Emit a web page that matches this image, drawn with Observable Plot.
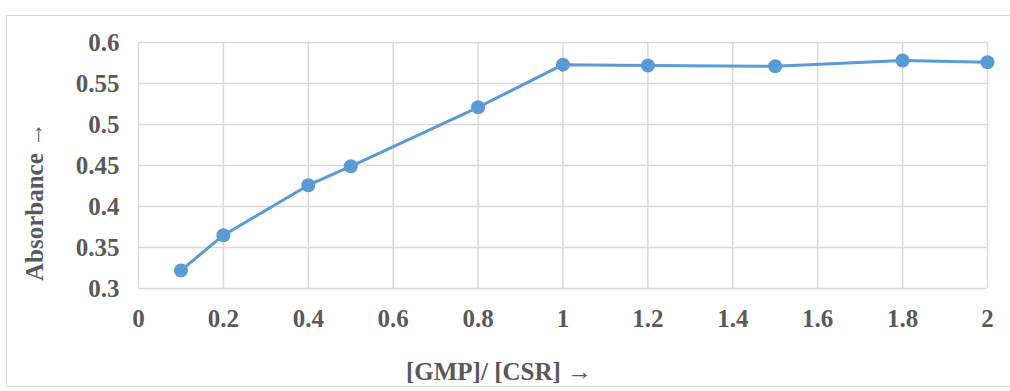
<!DOCTYPE html>
<html>
<head>
<meta charset="utf-8">
<script src="https://cdn.jsdelivr.net/npm/d3@7"></script>
<script src="https://cdn.jsdelivr.net/npm/@observablehq/plot@0.6"></script>
<style>
  html, body { margin: 0; padding: 0; background: #fff; }
  #wrap { position: relative; width: 1010px; height: 391px; overflow: hidden; }
  #border { position: absolute; left: 6px; top: 15px; width: 1020px; height: 372px; border: 1.5px solid #d9d9d9; box-sizing: border-box; pointer-events: none; }
</style>
</head>
<body>
<div id="wrap"><div id="border"></div></div>
<script>
const ratio = [0.1, 0.2, 0.4, 0.5, 0.8, 1, 1.2, 1.5, 1.8, 2];
const absorbance = [0.322, 0.365, 0.426, 0.449, 0.521, 0.573, 0.572, 0.571, 0.578, 0.576];
const xTicks = [0, 0.2, 0.4, 0.6, 0.8, 1, 1.2, 1.4, 1.6, 1.8, 2];
const yTicks = [0.3, 0.35, 0.4, 0.45, 0.5, 0.55, 0.6];
const xTitle = "[GMP]/ [CSR] →";
const yTitle = "Absorbance →";

const data = ratio.map((x, i) => ({x, y: absorbance[i]}));
const blue = "#5B9BD5";
const grid = "#d9d9d9";

const chart = Plot.plot({
  width: 1010,
  height: 391,
  marginLeft: 138,
  marginRight: 23,
  marginTop: 42,
  marginBottom: 103,
  x: {domain: [0, 2]},
  y: {domain: [0.3, 0.6]},
  style: {fontFamily: "'Liberation Serif', 'Times New Roman', serif", fontWeight: "bold", color: "#595959", background: "transparent"},
  marks: [
    Plot.ruleX(xTicks, {stroke: grid, strokeWidth: 1.5}),
    Plot.ruleY(yTicks, {stroke: grid, strokeWidth: 1.5}),
    Plot.axisX(xTicks, {tickSize: 0, tickPadding: 21, fontSize: 25, label: null, tickFormat: d => String(d)}),
    Plot.axisY(yTicks, {tickSize: 0, tickPadding: 19, fontSize: 25, label: null, tickFormat: d => String(d)}),
    Plot.line(data, {x: "x", y: "y", stroke: blue, strokeWidth: 3}),
    Plot.dot(data, {x: "x", y: "y", r: 7, fill: blue, stroke: "none"}),
    Plot.text([xTitle], {frameAnchor: "bottom", textAnchor: "middle", lineAnchor: "middle", dx: -64, dy: 83, fontSize: 25, fill: "#595959"}),
    Plot.text([yTitle], {frameAnchor: "left", textAnchor: "middle", lineAnchor: "middle", rotate: -90, dx: -104, dy: 36, fontSize: 25, fill: "#595959"})
  ]
});
document.getElementById("wrap").prepend(chart);
</script>
</body>
</html>
